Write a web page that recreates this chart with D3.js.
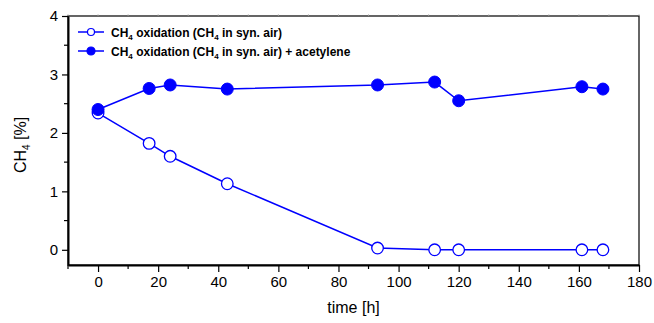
<!DOCTYPE html>
<html><head><meta charset="utf-8">
<script src="https://cdn.jsdelivr.net/npm/d3@7"></script>
<style>body{margin:0;background:#fff}svg{display:block}text{font-family:"Liberation Sans",Arial,sans-serif}</style>
</head><body><svg id="c" width="654" height="323"></svg>
<script>
const timesOpen = [0, 17, 24, 43, 93, 112, 120, 161, 168];
const ch4Open = [2.34, 1.82, 1.60, 1.13, 0.03, 0.0, 0.0, 0.0, 0.0];
const timesFilled = [0, 17, 24, 43, 93, 112, 120, 161, 168];
const ch4Filled = [2.40, 2.76, 2.82, 2.75, 2.82, 2.87, 2.55, 2.79, 2.75];
const xTicks = [0, 20, 40, 60, 80, 100, 120, 140, 160, 180];
const yTicks = [0, 1, 2, 3, 4];

const svg = d3.select("#c");
const L = 68, R = 639, T = 16, B = 265;
const x = d3.scaleLinear().domain([-10, 180]).range([L, R]);
const y = d3.scaleLinear().domain([-0.26, 4]).range([B, T]);
const blue = "#0000ff";

// frame
svg.append("rect").attr("x", L).attr("y", T).attr("width", R - L).attr("height", B - T)
  .attr("fill", "none").attr("stroke", "#000").attr("stroke-width", 1.2);

// x axis
const xMinor = d3.range(-10, 181, 10).filter(v => !xTicks.includes(v));
const gx = svg.append("g").attr("transform", `translate(0,${B})`);
gx.call(d3.axisBottom(x).tickValues(xTicks).tickSize(7).tickSizeOuter(0).tickPadding(4))
gx.select(".domain").attr("stroke-width", 2);
gx.selectAll(".tick line").attr("stroke-width", 1.2);
gx.selectAll(".tick text").attr("font-size", 15).attr("fill", "#000").style("font-family", "Liberation Sans, Arial, sans-serif");
gx.selectAll("line.minor").data(xMinor).join("line").attr("class", "minor")
  .attr("x1", d => x(d)).attr("x2", d => x(d)).attr("y1", 0).attr("y2", 4)
  .attr("stroke", "#000").attr("stroke-width", 1.2);

// top minor ticks (faint)
svg.append("g").selectAll("line").data(d3.range(-10, 181, 10)).join("line")
  .attr("x1", d => x(d)).attr("x2", d => x(d)).attr("y1", T - 1.5).attr("y2", T)
  .attr("stroke", "#999").attr("stroke-width", 1);

// y axis
const yMinor = [0.5, 1.5, 2.5, 3.5];
const gy = svg.append("g").attr("transform", `translate(${L},0)`);
gy.call(d3.axisLeft(y).tickValues(yTicks).tickFormat(d3.format("d")).tickSize(6).tickSizeOuter(0).tickPadding(4));
gy.select(".domain").attr("stroke-width", 2);
gy.selectAll(".tick line").attr("stroke-width", 1.2);
gy.selectAll(".tick text").attr("font-size", 15).attr("fill", "#000").style("font-family", "Liberation Sans, Arial, sans-serif");
gy.selectAll("line.minor").data(yMinor).join("line").attr("class", "minor")
  .attr("x1", 0).attr("x2", -4).attr("y1", d => y(d)).attr("y2", d => y(d))
  .attr("stroke", "#000").attr("stroke-width", 1.2);

// axis titles
svg.append("text").attr("x", (L + R) / 2).attr("y", 313).attr("text-anchor", "middle")
  .attr("font-size", 16).text("time [h]");
const yt = svg.append("text").attr("transform", `translate(26,145) rotate(-90)`)
  .attr("text-anchor", "middle").attr("font-size", 16);
yt.append("tspan").text("CH");
yt.append("tspan").attr("font-size", 10).attr("dy", 4).text("4");
yt.append("tspan").attr("dy", -4).text(" [%]");

// series
const line = d3.line().x(d => x(d[0])).y(d => y(d[1]));
const openData = timesOpen.map((t, i) => [t, ch4Open[i]]);
const filledData = timesFilled.map((t, i) => [t, ch4Filled[i]]);

svg.append("path").datum(openData).attr("d", line).attr("fill", "none").attr("stroke", blue).attr("stroke-width", 1.5);
svg.append("path").datum(filledData).attr("d", line).attr("fill", "none").attr("stroke", blue).attr("stroke-width", 1.5);
svg.append("g").selectAll("circle").data(openData).join("circle")
  .attr("cx", d => x(d[0])).attr("cy", d => y(d[1])).attr("r", 5.8)
  .attr("fill", "#fff").attr("stroke", blue).attr("stroke-width", 1.3);
svg.append("g").selectAll("circle").data(filledData).join("circle")
  .attr("cx", d => x(d[0])).attr("cy", d => y(d[1])).attr("r", 6)
  .attr("fill", blue).attr("stroke", blue).attr("stroke-width", 1);

// legend
const leg = [
  {filled: false, y: 32, parts: ["CH", "4", " oxidation (CH", "4", " in syn. air)"]},
  {filled: true, y: 51, parts: ["CH", "4", " oxidation (CH", "4", " in syn. air) + acetylene"]}
];
leg.forEach(l => {
  svg.append("line").attr("x1", 78).attr("x2", 104).attr("y1", l.y).attr("y2", l.y)
    .attr("stroke", blue).attr("stroke-width", 1.5);
  svg.append("circle").attr("cx", 91).attr("cy", l.y).attr("r", l.filled ? 4 : 3.5)
    .attr("fill", l.filled ? blue : "#fff").attr("stroke", blue).attr("stroke-width", 1.2);
  const t = svg.append("text").attr("x", 111).attr("y", l.y + 4.5).attr("font-size", 12).attr("font-weight", "bold");
  l.parts.forEach((p, i) => {
    const sub = i % 2 === 1;
    t.append("tspan").attr("font-size", sub ? 8 : 12).attr("dy", sub ? 3.5 : (i > 0 ? -3.5 : 0)).text(p);
  });
});
</script></body></html>
